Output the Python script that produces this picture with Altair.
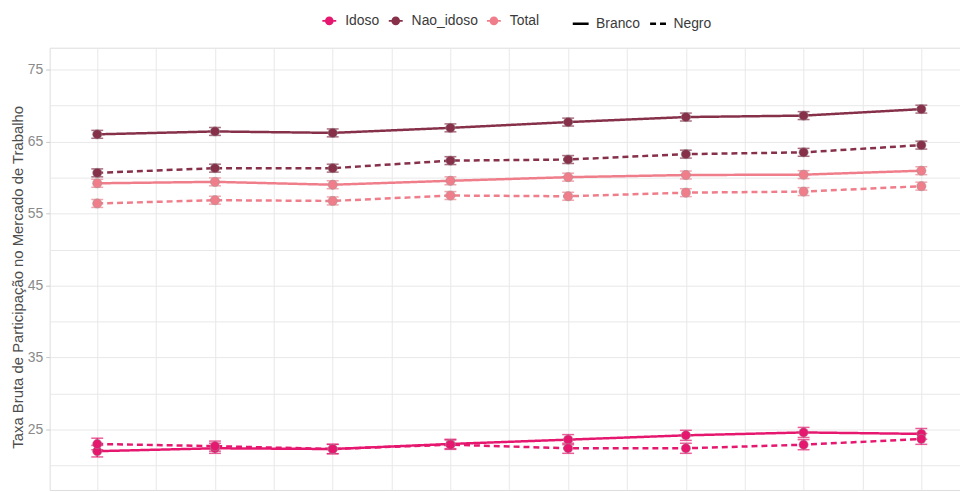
import altair as alt
import pandas as pd

years = [2012, 2013, 2014, 2015, 2016, 2017, 2018, 2019]
groups = ["Idoso", "Nao_idoso", "Total"]
races = ["Branco", "Negro"]

idoso_branco = [22.0, 22.4, 22.3, 23.0, 23.6, 24.2, 24.6, 24.4]
idoso_negro = [23.0, 22.7, 22.3, 22.9, 22.4, 22.4, 22.9, 23.7]
nao_idoso_branco = [66.0, 66.4, 66.2, 66.9, 67.7, 68.4, 68.6, 69.5]
nao_idoso_negro = [60.65, 61.3, 61.3, 62.35, 62.5, 63.25, 63.5, 64.5]
total_branco = [59.2, 59.4, 59.0, 59.55, 60.05, 60.35, 60.4, 60.95]
total_negro = [56.4, 56.85, 56.75, 57.5, 57.4, 57.9, 58.05, 58.8]

idoso_err = [0.8, 0.7, 0.65, 0.65, 0.7, 0.7, 0.7, 0.75]
other_err = [0.55] * 8

colors = ["#E6176F", "#86304A", "#EF7D8A"]
TITLE = "Taxa Bruta de Participação no Mercado de Trabalho"

series = {
    ("Idoso", "Branco"): (idoso_branco, idoso_err),
    ("Idoso", "Negro"): (idoso_negro, idoso_err),
    ("Nao_idoso", "Branco"): (nao_idoso_branco, other_err),
    ("Nao_idoso", "Negro"): (nao_idoso_negro, other_err),
    ("Total", "Branco"): (total_branco, other_err),
    ("Total", "Negro"): (total_negro, other_err),
}

rows = []
for (g, r), (vals, errs) in series.items():
    for yr, v, e in zip(years, vals, errs):
        rows.append({"ano": yr, "grupo": g, "raca": r, "taxa": v,
                     "lo": v - e, "hi": v + e})
df = pd.DataFrame(rows)

FONT = "Liberation Sans"
x_enc = alt.X("ano:Q",
              scale=alt.Scale(domain=[2011.5957, 2019.3285], nice=False, zero=False),
              axis=alt.Axis(values=[y + h for y in years for h in (0, 0.5)] + [2011.5],
                            labels=False, ticks=False, domain=False, title=None,
                            grid=True, gridColor="#E8E8E8", gridWidth=1))
y_scale = alt.Scale(domain=[16.61, 78.03], nice=False, zero=False)
y_axis = alt.Axis(values=list(range(20, 80, 5)),
                  labelExpr="datum.value % 10 == 5 ? datum.label : ''",
                  labelFontSize=14, labelColor="#8A8A8A", labelFont=FONT,
                  labelPadding=3, tickSize=4, tickColor="#C8C8C8",
                  tickOpacity={"condition": {"test": "datum.value % 10 == 0", "value": 0},
                               "value": 1},
                  domain=False, grid=True, gridColor="#E8E8E8",
                  title=TITLE,
                  titleFontSize=15, titleFont=FONT, titleColor="#4D4D4D",
                  titleFontWeight="normal", titleX=-32, titleY=231,
                  titleAlign="center", titleBaseline="middle")

color_scale = alt.Scale(domain=groups, range=colors)
base = alt.Chart(df)

lines = base.mark_line(strokeWidth=2.5).encode(
    x=x_enc,
    y=alt.Y("taxa:Q", scale=y_scale, axis=y_axis, title=TITLE),
    color=alt.Color("grupo:N", scale=color_scale, legend=None),
    strokeDash=alt.StrokeDash(
        "raca:N",
        scale=alt.Scale(domain=races, range=[[1, 0], [6, 4]]),
        legend=alt.Legend(orient="none", legendX=526, legendY=-34,
                          direction="horizontal", title=None,
                          symbolType="stroke", symbolSize=256,
                          symbolStrokeWidth=2.5, symbolStrokeColor="black",
                          labelFontSize=14, labelColor="#3A3A3A", labelFont=FONT,
                          labelOffset=6, columnPadding=4)),
    detail="raca:N",
)

errbars = base.mark_errorbar(ticks={"size": 12}, thickness=1.5).encode(
    x=alt.X("ano:Q"),
    y=alt.Y("lo:Q", scale=y_scale, title=TITLE),
    y2="hi:Q",
    color=alt.Color("grupo:N", scale=color_scale, legend=None),
    detail="raca:N",
)

legend_symbol = ("M-1,-0.12L1,-0.12L1,0.12L-1,0.12Z"
                 "M-0.62,0A0.62,0.62,0,1,1,0.62,0A0.62,0.62,0,1,1,-0.62,0Z")

points = base.mark_point(filled=True, size=88, opacity=1,
                         stroke="#9A9A9A", strokeWidth=0.5).encode(
    x=alt.X("ano:Q"),
    y=alt.Y("taxa:Q", scale=y_scale, title=TITLE),
    fill=alt.Fill("grupo:N", scale=color_scale,
                  legend=alt.Legend(orient="none", legendX=275, legendY=-34,
                                    direction="horizontal", title=None,
                                    symbolType=legend_symbol, symbolSize=196,
                                    symbolStrokeWidth=0,
                                    labelFontSize=14, labelColor="#3A3A3A",
                                    labelFont=FONT, labelOffset=9,
                                    columnPadding=9)),
    detail="raca:N",
)

chart = alt.layer(lines, errbars, points).resolve_legend(
    color="independent", strokeDash="independent"
).properties(
    width=918, height=446,
    autosize=alt.AutoSizeParams(type="none"),
    padding={"left": 42, "top": 38, "right": 0, "bottom": 0},
).configure_view(
    stroke="#C8C8C8", strokeWidth=1
).configure(font=FONT, background="white")

chart.save("out.html", embed_options={"renderer": "svg", "actions": False})
